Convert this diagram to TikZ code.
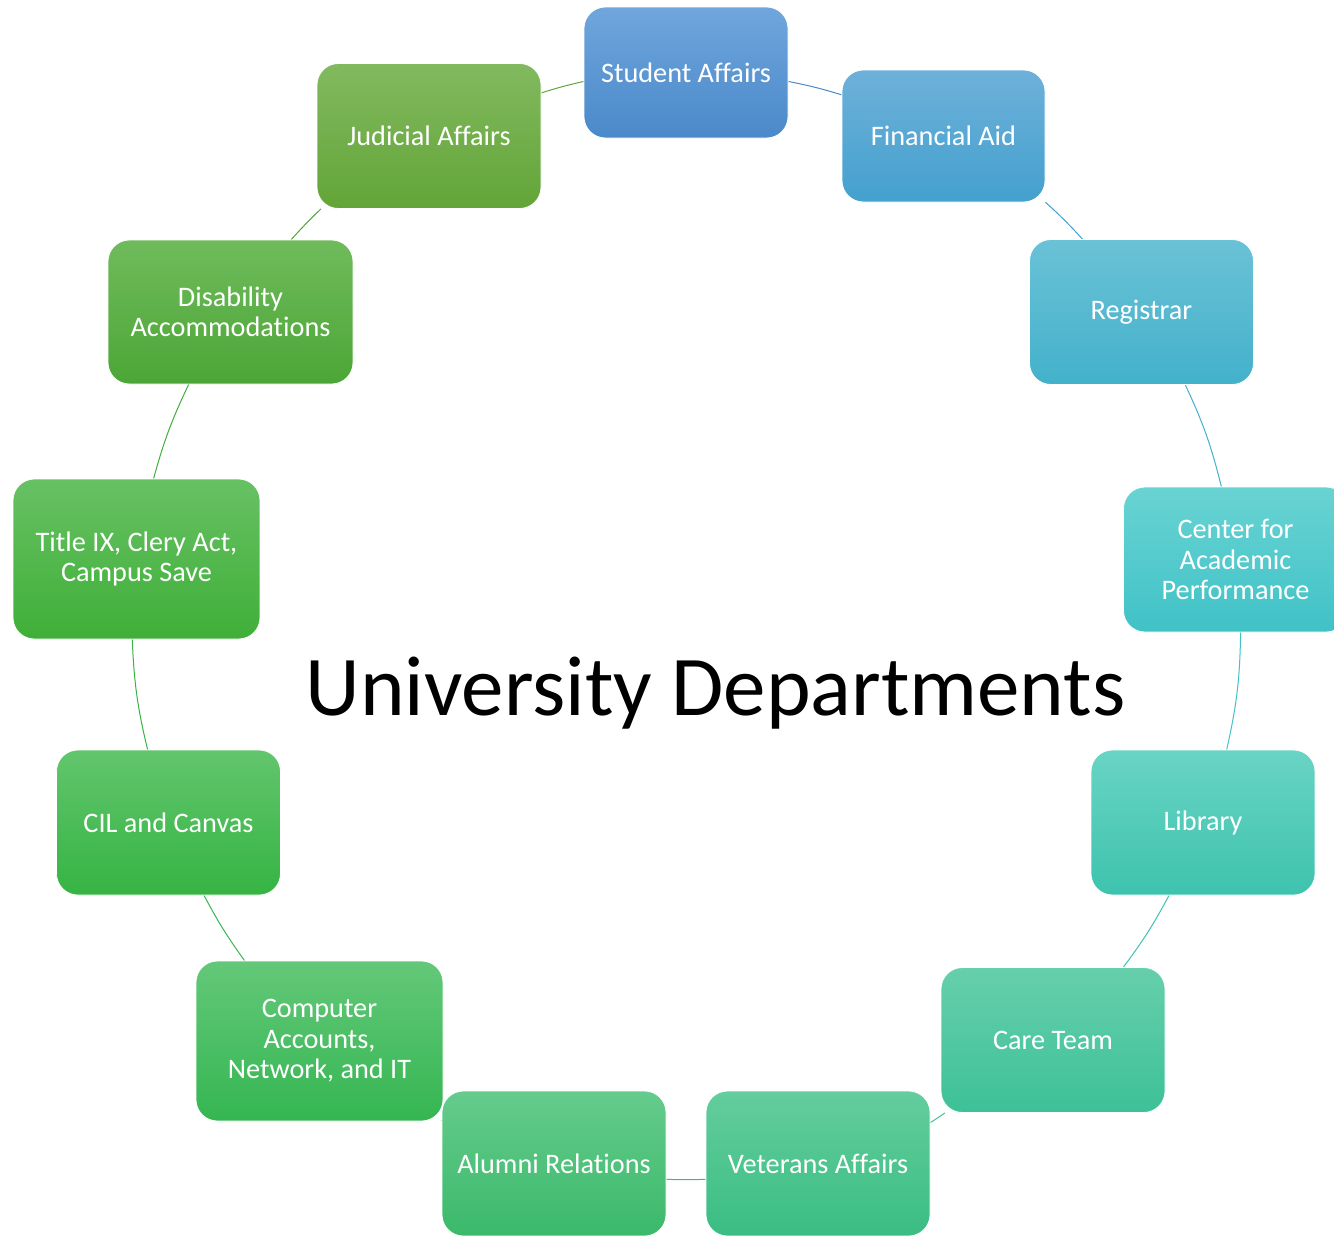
\documentclass[tikz,border=0pt]{standalone}
\usepackage{fontspec}
\setmainfont{Carlito}[Ligatures={NoCommon}]
\usetikzlibrary{backgrounds}
\definecolor{saT}{HTML}{70A6DC}\definecolor{saB}{HTML}{4A89CA}
\definecolor{faT}{HTML}{6DB1DA}\definecolor{faB}{HTML}{44A0CE}
\definecolor{rgT}{HTML}{6AC2D6}\definecolor{rgB}{HTML}{43B1CB}
\definecolor{caT}{HTML}{69D3D3}\definecolor{caB}{HTML}{40C2C7}
\definecolor{lbT}{HTML}{69D4C4}\definecolor{lbB}{HTML}{3EC3AE}
\definecolor{ctT}{HTML}{66CFAC}\definecolor{ctB}{HTML}{3DC197}
\definecolor{vaT}{HTML}{64CD9D}\definecolor{vaB}{HTML}{3ABD82}
\definecolor{arT}{HTML}{65CB8D}\definecolor{arB}{HTML}{3BB96A}
\definecolor{itT}{HTML}{63C879}\definecolor{itB}{HTML}{35B652}
\definecolor{ciT}{HTML}{62C56D}\definecolor{ciB}{HTML}{35B443}
\definecolor{tiT}{HTML}{67C163}\definecolor{tiB}{HTML}{3FAF38}
\definecolor{daT}{HTML}{6FBB5C}\definecolor{daB}{HTML}{4CA636}
\definecolor{jaT}{HTML}{82B95F}\definecolor{jaB}{HTML}{63A538}
\tikzset{
  dept/.style={rounded corners=16pt, draw=white, line width=0.6pt, text=white,
    align=center, inner sep=0pt, font=\fontsize{21.2}{22.9}\selectfont},
  smallbox/.style={minimum width=168pt, minimum height=108.75pt},
  widebox/.style={minimum width=185.25pt, minimum height=120pt},
  conn/.style={line width=0.75pt}}
\begin{document}
\begin{tikzpicture}[x=0.75pt,y=-0.75pt]
\useasboundingbox (0,0) rectangle (1334,1235);

\node[dept, minimum width=153pt, minimum height=98.25pt, top color=saT, bottom color=saB] (sa) at (686,72.5) {Student Affairs};
\node[dept, minimum width=152.25pt, minimum height=99pt, top color=faT, bottom color=faB] (fa) at (943.5,136) {Financial Aid};
\node[dept, smallbox, top color=rgT, bottom color=rgB] (rg) at (1141.5,312) {Registrar};
\node[dept, smallbox, top color=caT, bottom color=caB] (ca) at (1235.5,559.5) {Center for\\Academic\\Performance};
\node[dept, smallbox, top color=lbT, bottom color=lbB] (lb) at (1203,822.5) {Library};
\node[dept, smallbox, top color=ctT, bottom color=ctB] (ct) at (1053,1040) {Care Team};
\node[dept, smallbox, top color=vaT, bottom color=vaB] (va) at (818,1163.5) {Veterans Affairs};
\node[dept, smallbox, top color=arT, bottom color=arB] (ar) at (554,1163.5) {Alumni Relations};
\node[dept, widebox, top color=itT, bottom color=itB] (it) at (319.5,1041) {Computer\\Accounts,\\Network, and IT};
\node[dept, smallbox, top color=ciT, bottom color=ciB] (ci) at (168.5,822.5) {CIL and Canvas};
\node[dept, widebox, top color=tiT, bottom color=tiB] (ti) at (136.5,559) {Title IX, Clery Act,\\Campus Save};
\node[dept, minimum width=183.75pt, minimum height=108pt, top color=daT, bottom color=daB] (da) at (230.5,312) {Disability\\Accommodations};
\node[dept, smallbox, top color=jaT, bottom color=jaB] (ja) at (429,136) {Judicial Affairs};

\node[anchor=base, font=\fontsize{63.8}{76}\selectfont, text=black] (title) at (715.5,715) {University Departments};

\begin{scope}[on background layer]
\draw[conn, draw=jaB] (ja.21) to[bend left=2.3] (sa.185);
\draw[conn, draw=saB] (sa.-5) to[bend left=2.9] (fa.158);
\draw[conn, draw=faB] (fa.-33.6) to[bend left=2.7] (rg.129.3);
\draw[conn, draw=rgB] (rg.-59.5) to[bend left=5.6] (ca.101.3);
\draw[conn, draw=caB] (ca.-86.5) to[bend left=5.9] (lb.72.1);
\draw[conn, draw=lbB] (lb.245.5) to[bend left=4.3] (ct.46.2);
\draw[conn, draw=ctB] (ct.214.8) to[bend left=1] (va.20.6);
\draw[conn, draw=vaB] (va.188.1) to[bend left=2] (ar.-8.1);
\draw[conn, draw=arB] (ar.159.9) to (it.-33.7);
\draw[conn, draw=itB] (it.133) to[bend left=3.9] (ci.-64.9);
\draw[conn, draw=ciB] (ci.106.8) to[bend left=5.6] (ti.267.6);
\draw[conn, draw=tiB] (ti.78.5) to[bend left=5.1] (da.240.1);
\draw[conn, draw=daB] (da.50.7) to[bend left=2.2] (ja.214.7);
\end{scope}
\end{tikzpicture}
\end{document}
